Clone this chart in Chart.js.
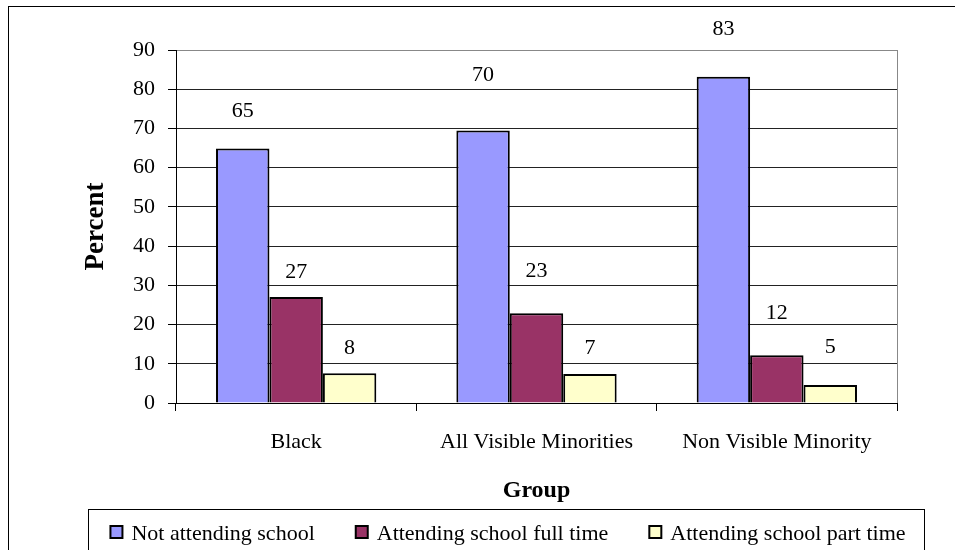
<!DOCTYPE html>
<html>
<head>
<meta charset="utf-8">
<script src="https://cdn.jsdelivr.net/npm/chart.js@4"></script>
<style>
  html, body { margin: 0; background: #fff; }
</style>
</head>
<body>
<canvas id="myChart" width="955" height="550"></canvas>
<script>
const groups = ["Black", "All Visible Minorities", "Non Visible Minority"];
const seriesNames = ["Not attending school", "Attending school full time", "Attending school part time"];
const notAttending = [64.9, 69.5, 83.2];
const fullTime = [27.0, 22.9, 12.2];
const partTime = [7.6, 7.4, 4.6];
const seriesColors = ["#9999FF", "#993366", "#FFFFCC"];

const serif = "'Liberation Serif', 'Times New Roman', serif";
Chart.defaults.font.family = serif;
Chart.defaults.color = "#000";

// frame, legend box and value labels, the way Excel lays them out
const excelBits = {
  id: "excelBits",
  beforeDraw(chart) {
    const ctx = chart.ctx;
    ctx.save();
    ctx.fillStyle = "#fff";
    ctx.fillRect(0, 0, chart.width, chart.height);
    ctx.restore();
  },
  afterDatasetsDraw(chart, args, opts) {
    const ctx = chart.ctx;
    const y = chart.scales.y;
    ctx.save();
    ctx.font = "22px " + serif;
    ctx.fillStyle = "#000";
    ctx.textAlign = "center";
    ctx.textBaseline = "middle";
    chart.data.datasets.forEach((ds, d) => {
      chart.getDatasetMeta(d).data.forEach((bar, i) => {
        const at = opts.labelAt[d][i];
        ctx.fillText(Math.round(ds.data[i]), bar.x, y.getPixelForValue(at));
      });
    });
    ctx.restore();
  },
  afterDraw(chart) {
    const ctx = chart.ctx;
    const a = chart.chartArea;
    ctx.save();
    // plot area right edge
    ctx.strokeStyle = "#888";
    ctx.lineWidth = 1;
    ctx.beginPath();
    ctx.moveTo(Math.round(a.right) + 0.5, a.top);
    ctx.lineTo(Math.round(a.right) + 0.5, a.bottom);
    ctx.stroke();
    // outer chart border
    ctx.strokeStyle = "#000";
    ctx.strokeRect(8.5, 6.5, 1000, 1000);
    // legend
    ctx.strokeRect(88.5, 509.5, 836, 100);
    ctx.font = "22px " + serif;
    ctx.textBaseline = "middle";
    const items = chart.data.datasets.map(ds => ({
      text: ds.label, color: ds.backgroundColor,
      w: 12 + 9 + ctx.measureText(ds.label).width
    }));
    const gap = 41;
    const total = items.reduce((s, it) => s + it.w, 0) + gap * (items.length - 1);
    let x = 508 - total / 2;
    const ly = 532;
    items.forEach(it => {
      ctx.fillStyle = it.color;
      ctx.fillRect(x, ly - 6, 12, 12);
      ctx.strokeStyle = "#000";
      ctx.lineWidth = 2;
      ctx.strokeRect(x, ly - 6, 12, 12);
      ctx.fillStyle = "#000";
      ctx.fillText(it.text, x + 21, ly + 2);
      x += it.w + gap;
    });
    ctx.restore();
  }
};

new Chart("myChart", {
  type: "bar",
  data: {
    labels: groups,
    datasets: [
      { label: seriesNames[0], data: notAttending, backgroundColor: seriesColors[0] },
      { label: seriesNames[1], data: fullTime, backgroundColor: seriesColors[1] },
      { label: seriesNames[2], data: partTime, backgroundColor: seriesColors[2] }
    ]
  },
  options: {
    responsive: false,
    animation: false,
    layout: { padding: { top: 50, right: 58, bottom: 0, left: 0 } },
    datasets: {
      bar: {
        borderColor: "#000",
        borderWidth: 2,
        categoryPercentage: 0.667,
        barPercentage: 1.0
      }
    },
    plugins: {
      legend: { display: false },
      tooltip: { enabled: false },
      excelBits: {
        labelAt: [[74.3, 83.5, 95.2], [33.4, 33.7, 23.0], [14.0, 14.0, 14.3]]
      }
    },
    scales: {
      x: {
        afterFit: s => { s.height = 147; },
        grid: {
          offset: true,
          drawOnChartArea: false,
          drawTicks: true,
          tickLength: 8,
          color: "#000"
        },
        border: { color: "#000" },
        ticks: { font: { size: 22 }, padding: 18, maxRotation: 0 },
        title: {
          display: true,
          text: "Group",
          font: { size: 24, weight: "bold" },
          padding: { top: 0, bottom: 45 }
        }
      },
      y: {
        min: 0,
        max: 90,
        afterFit: s => { s.width = 176; },
        grid: {
          color: c => (c.tick && c.tick.value === 90 ? "#888" : "#222"),
          tickColor: "#000",
          tickLength: 8
        },
        border: { color: "#000" },
        ticks: { stepSize: 10, font: { size: 22 }, padding: 13 },
        title: {
          display: true,
          text: "Percent",
          font: { size: 27, weight: "bold" },
          padding: { top: 80, bottom: 0 }
        }
      }
    }
  },
  plugins: [excelBits]
});
</script>
</body>
</html>
